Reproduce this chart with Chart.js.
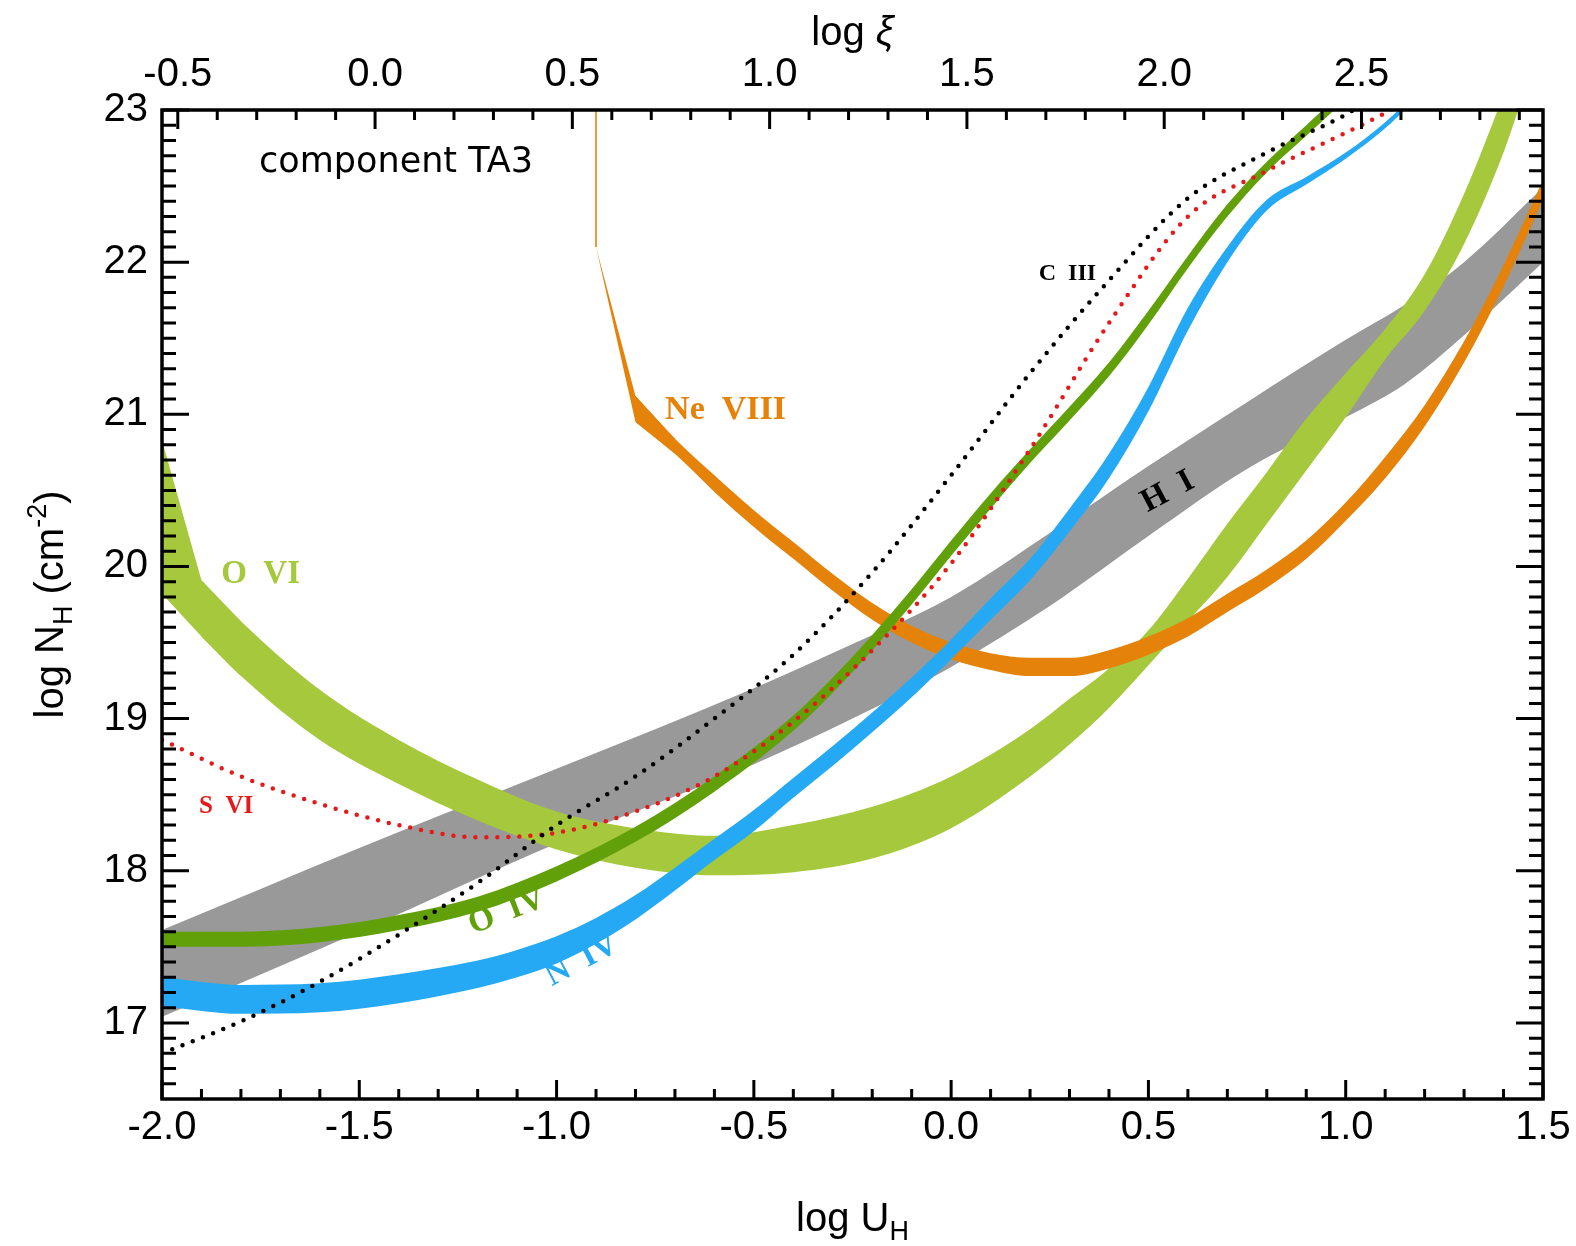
<!DOCTYPE html>
<html>
<head>
<meta charset="utf-8">
<title>component TA3</title>
<script src="https://cdn.jsdelivr.net/npm/chart.js@4.4.1/dist/chart.umd.min.js"></script>
<style>
  body { margin: 0; background: #fff; }
  canvas { display: block; }
</style>
</head>
<body>
<canvas id="myChart" width="1576" height="1246"></canvas>
<script>
// axes
const uTicks = [-2.0, -1.5, -1.0, -0.5, 0.0, 0.5, 1.0, 1.5];
const xiTicks = [-0.5, 0.0, 0.5, 1.0, 1.5, 2.0, 2.5];
const nTicks = [17, 18, 19, 20, 21, 22, 23];
const xiOffset = 1.46;   // log xi - log U_H

// H I (band, log N_H)
const hiU   = [-2.0, -1.5, -1.0, -0.5, -0.25, 0.0, 0.25, 0.5, 0.75, 1.0, 1.15, 1.3, 1.5];
const hiTop = [17.61, 18.15, 18.67, 19.2, 19.49, 19.8, 20.22, 20.66, 21.08, 21.49, 21.72, 22.0, 22.49];
const hiBot = [17.04, 17.6, 18.18, 18.7, 19.0, 19.34, 19.74, 20.2, 20.64, 20.98, 21.2, 21.52, 22.0];

// O VI
const oviU   = [-2.0, -1.9, -1.8, -1.6, -1.4, -1.2, -1.0, -0.8, -0.6, -0.4, -0.2, 0.0, 0.2, 0.3, 0.4, 0.5, 0.6, 0.7, 0.8, 0.9, 1.0, 1.1, 1.2, 1.3, 1.4, 1.45];
const oviTop = [20.83, 19.91, 19.64, 19.19, 18.86, 18.6, 18.39, 18.28, 18.23, 18.3, 18.42, 18.62, 18.93, 19.13, 19.33, 19.58, 19.92, 20.28, 20.62, 20.97, 21.27, 21.56, 21.92, 22.45, 23.1, 23.45];
const oviBot = [19.82, 19.54, 19.28, 18.86, 18.57, 18.33, 18.14, 18.02, 17.97, 17.99, 18.08, 18.28, 18.62, 18.83, 19.07, 19.35, 19.64, 19.93, 20.28, 20.63, 20.98, 21.36, 21.68, 22.12, 22.72, 23.1];

// Ne VIII
const neU   = [-0.9, -0.8, -0.7, -0.6, -0.5, -0.4, -0.3, -0.2, -0.1, 0.0, 0.1, 0.2, 0.3, 0.4, 0.5, 0.6, 0.7, 0.8, 0.9, 1.0, 1.1, 1.2, 1.3, 1.4, 1.5];
const neTop = [22.1, 21.12, 20.84, 20.6, 20.37, 20.16, 19.95, 19.76, 19.61, 19.5, 19.43, 19.4, 19.4, 19.45, 19.54, 19.66, 19.82, 19.98, 20.17, 20.42, 20.72, 21.06, 21.48, 21.98, 22.54];
const neBot = [22.1, 20.95, 20.74, 20.49, 20.26, 20.05, 19.84, 19.65, 19.5, 19.39, 19.32, 19.28, 19.28, 19.33, 19.42, 19.54, 19.7, 19.86, 20.05, 20.3, 20.58, 20.92, 21.34, 21.84, 22.41];
const neStemU = [-0.9, -0.9];
const neStemN = [22.1, 23.0];

// O IV
const oivU   = [-2.0, -1.8, -1.6, -1.4, -1.2, -1.0, -0.8, -0.6, -0.4, -0.3, -0.2, -0.1, 0.0, 0.1, 0.2, 0.3, 0.4, 0.5, 0.6, 0.7, 0.8, 0.9, 1.0];
const oivTop = [17.60, 17.60, 17.63, 17.71, 17.83, 18.03, 18.29, 18.62, 19.02, 19.27, 19.55, 19.85, 20.17, 20.48, 20.77, 21.05, 21.34, 21.68, 22.04, 22.38, 22.66, 22.90, 23.14];
const oivBot = [17.50, 17.50, 17.53, 17.61, 17.73, 17.93, 18.19, 18.52, 18.92, 19.17, 19.45, 19.75, 20.07, 20.38, 20.68, 20.96, 21.25, 21.59, 21.96, 22.30, 22.59, 22.83, 23.07];

// N IV
const nivU   = [-2.0, -1.8, -1.6, -1.4, -1.2, -1.1, -1.0, -0.9, -0.8, -0.7, -0.6, -0.5, -0.4, -0.3, -0.2, -0.1, 0.0, 0.1, 0.2, 0.3, 0.4, 0.5, 0.6, 0.7, 0.8, 0.9, 1.0, 1.1, 1.15];
const nivTop = [17.30, 17.25, 17.26, 17.32, 17.41, 17.48, 17.57, 17.69, 17.84, 18.02, 18.21, 18.40, 18.61, 18.82, 19.04, 19.27, 19.52, 19.79, 20.05, 20.38, 20.74, 21.18, 21.70, 22.10, 22.41, 22.56, 22.72, 22.92, 23.04];
const nivBot = [17.11, 17.06, 17.07, 17.13, 17.23, 17.30, 17.39, 17.52, 17.68, 17.87, 18.07, 18.26, 18.48, 18.69, 18.91, 19.14, 19.39, 19.65, 19.91, 20.23, 20.58, 21.02, 21.55, 22.00, 22.34, 22.51, 22.68, 22.88, 23.00];

// C III and S VI (dotted)
const ciiiU = [-2.0, -1.8, -1.6, -1.4, -1.2, -1.0, -0.8, -0.6, -0.4, -0.2, 0.0, 0.2, 0.4, 0.6, 0.8, 1.0, 1.05];
const ciiiN = [16.80, 17.01, 17.27, 17.58, 17.92, 18.30, 18.62, 19.00, 19.42, 19.96, 20.60, 21.27, 21.88, 22.42, 22.72, 22.97, 23.05];
const sviU  = [-2.0, -1.8, -1.6, -1.4, -1.2, -1.0, -0.8, -0.6, -0.4, -0.2, 0.0, 0.2, 0.4, 0.6, 0.8, 1.0, 1.1, 1.15];
const sviN  = [18.86, 18.62, 18.44, 18.30, 18.22, 18.25, 18.39, 18.62, 18.98, 19.45, 20.02, 20.77, 21.60, 22.30, 22.60, 22.85, 22.98, 23.05];

const GRAY = '#999999', OVI = '#a6c83c', NE = '#e5820a', OIV = '#62a00a', NIV = '#25a9f5', RED = '#e41a1a';
const SANS = "'Liberation Sans', Arial, Helvetica, sans-serif";
const SERIF = "'Liberation Serif', 'Times New Roman', serif";

function pts(xs, ys) {
  return xs.map((x, i) => ({x: x, y: ys[i]}));
}

// a filled band = upper line filled down to the next (lower) line
function band(xs, top, bot, color, order, smooth) {
  const common = {xAxisID: 'x', yAxisID: 'y', pointRadius: 0, borderWidth: 0, order: order,
                  tension: 0, cubicInterpolationMode: smooth ? 'monotone' : 'default'};
  return [
    Object.assign({data: pts(xs, top), backgroundColor: color, borderColor: color, fill: '+1'}, common),
    Object.assign({data: pts(xs, bot), backgroundColor: color, borderColor: color, fill: false}, common)
  ];
}

function dotted(xs, ys, color) {
  return {data: pts(xs, ys), xAxisID: 'x', yAxisID: 'y', borderColor: color, borderWidth: 4.5,
          borderDash: [0, 11], borderCapStyle: 'round', pointRadius: 0, fill: false, order: 1,
          cubicInterpolationMode: 'monotone', clip: 0};
}

// draw text pieces one after the other (for sub/superscripts)
function drawRuns(ctx, runs, x, y) {
  let w = 0;
  runs.forEach(r => { ctx.font = r.f; w += ctx.measureText(r.t).width; });
  let cx = x - w / 2;
  runs.forEach(r => {
    ctx.font = r.f;
    ctx.fillText(r.t, cx, y + (r.dy || 0));
    cx += ctx.measureText(r.t).width;
  });
}

const frame = {
  id: 'frame',
  afterDraw(chart) {
    const ctx = chart.ctx, a = chart.chartArea;
    const sx = chart.scales.x, st = chart.scales.xTop, sy = chart.scales.y;
    ctx.save();
    ctx.strokeStyle = '#000';
    ctx.lineWidth = 3;
    ctx.beginPath();
    for (let i = -20; i <= 15; i++) {
      const p = sx.getPixelForValue(i / 10), len = i % 5 === 0 ? 19 : 10;
      ctx.moveTo(p, a.bottom); ctx.lineTo(p, a.bottom - len);
    }
    for (let i = -5; i <= 29; i++) {
      const p = st.getPixelForValue(i / 10), len = i % 5 === 0 ? 19 : 10;
      ctx.moveTo(p, a.top); ctx.lineTo(p, a.top + len);
    }
    for (let i = 166; i <= 230; i++) {
      const p = sy.getPixelForValue(i / 10), len = i % 10 === 0 ? 27 : 14;
      ctx.moveTo(a.left, p); ctx.lineTo(a.left + len, p);
      ctx.moveTo(a.right, p); ctx.lineTo(a.right - len, p);
    }
    ctx.stroke();
    ctx.lineWidth = 3.5;
    ctx.strokeRect(a.left, a.top, a.right - a.left, a.bottom - a.top);

    // axis titles
    ctx.fillStyle = '#000';
    ctx.textAlign = 'left';
    ctx.textBaseline = 'alphabetic';
    const mid = (a.left + a.right) / 2;
    drawRuns(ctx, [{t: 'log U', f: '40px ' + SANS}, {t: 'H', f: '27px ' + SANS, dy: 9}], mid, 1231);
    drawRuns(ctx, [{t: 'log ', f: '40px ' + SANS}, {t: 'ξ', f: 'italic 40px ' + SANS}], mid, 45);
    ctx.save();
    ctx.translate(63, (a.top + a.bottom) / 2);
    ctx.rotate(-Math.PI / 2);
    drawRuns(ctx, [{t: 'log N', f: '40px ' + SANS}, {t: 'H', f: '27px ' + SANS, dy: 9},
                   {t: ' (cm', f: '40px ' + SANS}, {t: '-2', f: '27px ' + SANS, dy: -17},
                   {t: ')', f: '40px ' + SANS}], 0, 0);
    ctx.restore();

    // labels, placed in data coordinates
    const X = v => sx.getPixelForValue(v), Y = v => sy.getPixelForValue(v);
    ctx.font = '35px "DejaVu Sans", sans-serif';
    ctx.fillText('component TA3', X(-1.754), Y(22.59));
    const flat = [
      ['O  VI', -1.85, 19.89, 33, OVI],
      ['Ne  VIII', -0.725, 20.97, 34, NE],
      ['C  III', 0.222, 21.88, 24, '#000'],
      ['S  VI', -1.906, 18.38, 25, RED]
    ];
    flat.forEach(l => {
      ctx.font = 'bold ' + l[3] + 'px ' + SERIF;
      ctx.fillStyle = l[4];
      ctx.fillText(l[0], X(l[1]), Y(l[2]));
    });
    const tilted = [
      ['H  I', 0.549, 20.49, -28, '#000'],
      ['O  IV', -1.126, 17.73, -21, OIV],
      ['N  IV', -0.936, 17.41, -28, NIV]
    ];
    ctx.textAlign = 'center';
    ctx.textBaseline = 'middle';
    tilted.forEach(l => {
      ctx.save();
      ctx.translate(X(l[1]), Y(l[2]));
      ctx.rotate(l[3] * Math.PI / 180);
      ctx.font = 'bold 33px ' + SERIF;
      ctx.fillStyle = l[4];
      ctx.fillText(l[0], 0, 0);
      ctx.restore();
    });
    ctx.restore();
  }
};

const tickFont = {family: SANS, size: 40};

const config = {
  type: 'line',
  data: {
    datasets: [
      dotted(ciiiU, ciiiN, '#000'),
      dotted(sviU, sviN, RED),
      ...band(nivU, nivTop, nivBot, NIV, 3, true),
      ...band(oivU, oivTop, oivBot, OIV, 4, true),
      // Ne VIII: straight wedge at the kink, smooth afterwards
      ...band(neU.slice(0, 3), neTop.slice(0, 3), neBot.slice(0, 3), NE, 5, false),
      ...band(neU.slice(1), neTop.slice(1), neBot.slice(1), NE, 5, true),
      {data: pts(neStemU, neStemN), xAxisID: 'x', yAxisID: 'y', borderColor: NE, borderWidth: 1.6,
       pointRadius: 0, fill: false, order: 5},
      // O VI: sharp corner at -1.9, smooth afterwards
      ...band(oviU.slice(0, 3), oviTop.slice(0, 3), oviBot.slice(0, 3), OVI, 6, false),
      ...band(oviU.slice(1), oviTop.slice(1), oviBot.slice(1), OVI, 6, true),
      ...band(hiU, hiTop, hiBot, GRAY, 7, true)
    ]
  },
  options: {
    responsive: false,
    devicePixelRatio: 1,
    animation: false,
    events: [],
    layout: {padding: 0},
    plugins: {legend: {display: false}, tooltip: {enabled: false}},
    scales: {
      x: {
        type: 'linear', position: 'bottom', min: -2, max: 1.5,
        afterBuildTicks: s => { s.ticks = uTicks.map(v => ({value: v})); },
        afterFit: s => { s.height = 147; },
        grid: {display: false, drawTicks: false},
        border: {display: false},
        ticks: {color: '#000', font: tickFont, padding: 5, maxRotation: 0, autoSkip: false,
                callback: v => v.toFixed(1)}
      },
      xTop: {
        type: 'linear', position: 'top', min: -2 + xiOffset, max: 1.5 + xiOffset,
        afterBuildTicks: s => { s.ticks = xiTicks.map(v => ({value: v})); },
        afterFit: s => { s.height = 110; },
        grid: {display: false, drawTicks: false},
        border: {display: false},
        ticks: {color: '#000', font: tickFont, padding: 11, maxRotation: 0, autoSkip: false,
                callback: v => v.toFixed(1)}
      },
      y: {
        type: 'linear', position: 'left', min: 16.5, max: 23,
        afterBuildTicks: s => { s.ticks = nTicks.map(v => ({value: v})); },
        afterFit: s => { s.width = 162; },
        grid: {display: false, drawTicks: false},
        border: {display: false},
        ticks: {color: '#000', font: tickFont, padding: 14, autoSkip: false,
                callback: v => String(v)}
      },
      yRight: {
        type: 'linear', position: 'right', min: 16.5, max: 23,
        afterFit: s => { s.width = 33; },
        grid: {display: false, drawTicks: false},
        border: {display: false},
        ticks: {display: false}
      }
    }
  },
  plugins: [frame]
};

const myChart = new Chart(document.getElementById('myChart'), config);
</script>
</body>
</html>
